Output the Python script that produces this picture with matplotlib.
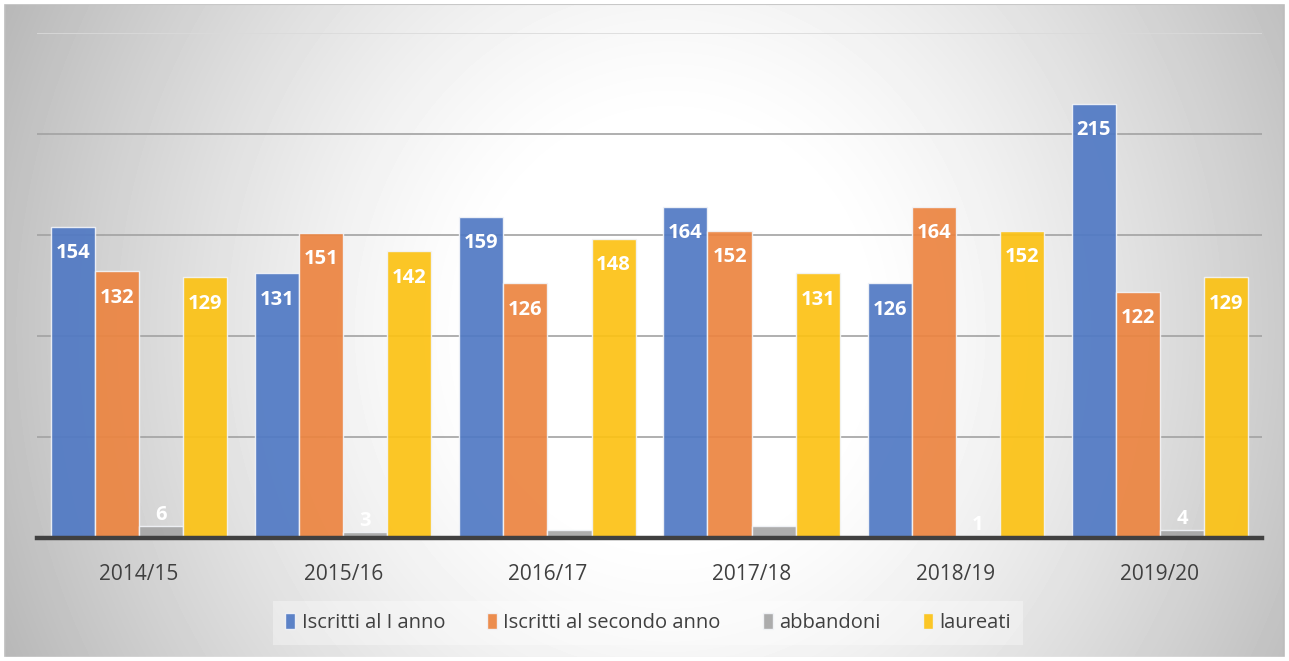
import numpy as np
import matplotlib.pyplot as plt
from matplotlib.patches import Rectangle

plt.rcParams['font.family'] = ['Open Sans', 'DejaVu Sans']

anni = ['2014/15', '2015/16', '2016/17', '2017/18', '2018/19', '2019/20']
iscritti_primo = [154, 131, 159, 164, 126, 215]
iscritti_secondo = [132, 151, 126, 152, 164, 122]
abbandoni = [6, 3, 4, 6, 1, 4]
laureati = [129, 142, 148, 131, 152, 129]

serie = [
    ('Iscritti al I anno', iscritti_primo, '#5079c4'),
    ('Iscritti al secondo anno', iscritti_secondo, '#ec8440'),
    ('abbandoni', abbandoni, '#a6a6a6'),
    ('laureati', laureati, '#fcc214'),
]

fig = plt.figure(figsize=(12.89, 6.61), dpi=100)

# sfondo con gradiente radiale
bg = fig.add_axes([0, 0, 1, 1], zorder=-10)
xx, yy = np.meshgrid(np.linspace(0, 1, 400), np.linspace(0, 1, 200))
d = np.sqrt(((xx - 0.52) / 0.52) ** 2 + ((yy - 0.5) / 1.1) ** 2)
val = 1.0 - 0.24 * np.clip((d - 0.28) / 0.72, 0, 1.2) ** 1.3
bg.imshow(val, cmap='gray', vmin=0, vmax=1, extent=[0, 1, 0, 1],
          origin='lower', aspect='auto', interpolation='bicubic')
bg.set_xlim(0, 1)
bg.set_ylim(0, 1)
bg.axis('off')
fig.patches.append(Rectangle((0.004, 0.004), 0.992, 0.99, transform=fig.transFigure,
                             fill=False, edgecolor='#bdbdbd', lw=1.5))
# riquadro bianco esterno
fig.patches.append(Rectangle((0, 0), 1, 1, transform=fig.transFigure,
                             fill=False, edgecolor='white', lw=6))

ax = fig.add_axes([37 / 1289, 1 - 538 / 661, 1225 / 1289, 505 / 661])
ax.patch.set_alpha(0)

x = np.arange(len(anni))
w = 0.216
for i, (nome, vals, col) in enumerate(serie):
    pos = x + (i - 1.5) * w
    ax.bar(pos, vals, width=w, color=col, alpha=0.92, edgecolor='#f2f4f8',
           linewidth=1, label=nome, zorder=3)
    for p, v in zip(pos, vals):
        dy = 8 if v < 20 else -19
        ax.annotate(str(v), (p, v), xytext=(0, dy), textcoords='offset points',
                    ha='center', va='center', color='white', fontsize=14.5,
                    fontweight='bold', zorder=5)

ax.set_xlim(-0.5, len(anni) - 0.5)
ax.set_ylim(0, 250)
ax.set_yticks([50, 100, 150, 200, 250])
ax.set_yticklabels([])
ax.tick_params(axis='y', length=0)
ax.grid(axis='y', color='#a2a2a2', lw=1.2, zorder=0)
ax.get_ygridlines()[-1].set_color('#dadada')
ax.set_xticks(x)
ax.set_xticklabels(anni, fontsize=15, color='#404040')
ax.tick_params(axis='x', length=0, pad=19)
for s in ax.spines.values():
    s.set_visible(False)
ax.axhline(0, color='#404040', lw=3.2, zorder=6, clip_on=False)

leg = fig.legend(loc='center', bbox_to_anchor=(648 / 1289, 1 - 623 / 661), ncol=4,
                 fontsize=14.5, frameon=True, handlelength=0.5, handleheight=0.8,
                 handletextpad=0.3, columnspacing=2.1, borderpad=0.6,
                 borderaxespad=0, fancybox=False)
leg.get_frame().set_facecolor('white')
leg.get_frame().set_alpha(0.35)
leg.get_frame().set_edgecolor('none')
for t in leg.get_texts():
    t.set_color('#404040')

fig.savefig('out.png', dpi=100)
